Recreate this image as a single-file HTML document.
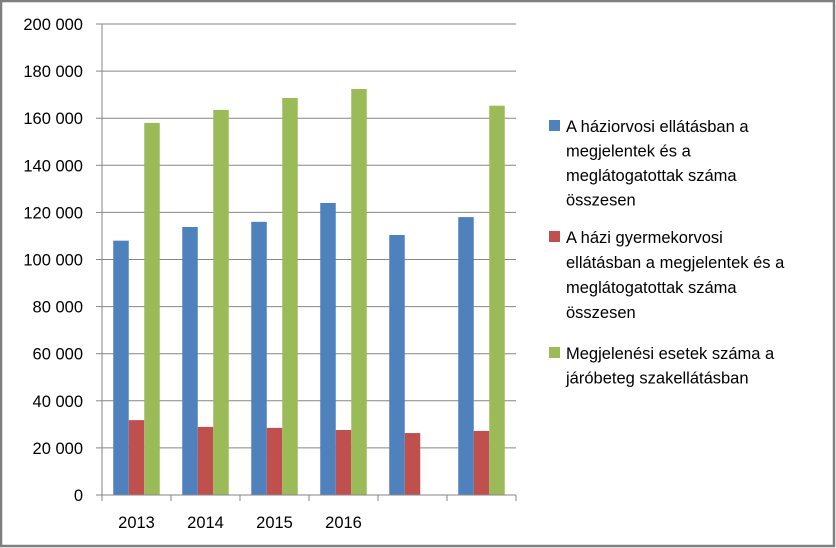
<!DOCTYPE html>
<html><head><meta charset="utf-8"><style>
html,body{margin:0;padding:0;background:#fff;}
svg{display:block;font-family:"Liberation Sans",sans-serif;}
</style></head><body>
<svg width="836" height="548" viewBox="0 0 836 548">
<rect x="1" y="1" width="833" height="545" fill="#fff" stroke="#7f7f7f" stroke-width="2.5"/>
<g id="grid"></g>
<g id="bars"></g>
<g id="axes"></g>
<g id="legend">
  <g>
    <rect x="549" y="120" width="11" height="11" fill="#4f81bd"/>
    <text x="566" y="132" font-size="16.5" fill="#000"><tspan x="566">A háziorvosi ellátásban a</tspan><tspan x="566" dy="24.5">megjelentek és a</tspan><tspan x="566" dy="24.5">meglátogatottak száma</tspan><tspan x="566" dy="24.5">összesen</tspan></text>
  </g>
  <g>
    <rect x="549" y="231" width="11" height="11" fill="#c0504d"/>
    <text x="566" y="243" font-size="16.5" fill="#000"><tspan x="566">A házi gyermekorvosi</tspan><tspan x="566" dy="25">ellátásban a megjelentek és a</tspan><tspan x="566" dy="25">meglátogatottak száma</tspan><tspan x="566" dy="25">összesen</tspan></text>
  </g>
  <g>
    <rect x="549" y="347" width="11" height="11" fill="#9bbb59"/>
    <text x="566" y="359" font-size="16.5" fill="#000"><tspan x="566">Megjelenési esetek száma a</tspan><tspan x="566" dy="24.5">járóbeteg szakellátásban</tspan></text>
  </g>
</g>
</svg>
<script>
const categories = ["2013","2014","2015","2016","",""];
const seriesHaziorvosi = [108000,113800,116000,124000,110400,118000];
const seriesGyermekorvosi = [31800,28900,28500,27600,26300,27200];
const seriesJarobeteg = [158000,163500,168600,172400,null,165300];
const yTicks = [0,20000,40000,60000,80000,100000,120000,140000,160000,180000,200000];
const yTickLabels = ["0","20 000","40 000","60 000","80 000","100 000","120 000","140 000","160 000","180 000","200 000"];

const NS="http://www.w3.org/2000/svg";
const X0=102, X1=516, Y0=495, Y1=24, YMAX=200000;
const catW=(X1-X0)/categories.length;
const barW=15.5;
function y(v){return Y0-(v/YMAX)*(Y0-Y1);}
function xCat(i){return X0+i*catW;}
function mk(tag,attrs,parent){const e=document.createElementNS(NS,tag);for(const k in attrs)e.setAttribute(k,attrs[k]);parent.appendChild(e);return e;}
const grid=document.getElementById('grid'),bars=document.getElementById('bars'),axes=document.getElementById('axes');
yTicks.forEach((t,i)=>{
  if(t>0){const l=mk('line',{x1:X0,x2:X1,y1:y(t),y2:y(t),stroke:'#868686','stroke-width':1},grid);
  
  }
  const tk=mk('line',{x1:96,x2:X0,y1:y(t),y2:y(t),stroke:'#868686','stroke-width':1},axes);
  
  
  const tx=mk('text',{x:83,y:y(t)+6,'text-anchor':'end','font-size':16.5,fill:'#000'},axes);
  tx.textContent=yTickLabels[i];
  
  
});
const series=[[seriesHaziorvosi,'#4f81bd','haziorvosi'],[seriesGyermekorvosi,'#c0504d','gyermekorvosi'],[seriesJarobeteg,'#9bbb59','jarobeteg']];
categories.forEach((c,i)=>{
  const start=xCat(i)+(catW-3*barW)/2;
  series.forEach((s,j)=>{
    const v=s[0][i]; if(v==null) return;
    const r=mk('rect',{x:start+j*barW,y:y(v),width:barW,height:Y0-y(v),fill:s[1]},bars);
    
    
  });
  const lab=mk('text',{x:xCat(i)+catW/2,y:528,'text-anchor':'middle','font-size':16.5,fill:'#000'},axes);
  lab.textContent=c;
  
  
});
for(let i=0;i<=categories.length;i++){
  const t=mk('line',{x1:xCat(i),x2:xCat(i),y1:Y0,y2:Y0+6,stroke:'#868686','stroke-width':1},axes);
  
  
}
const ya=mk('line',{x1:X0,x2:X0,y1:Y1,y2:Y0,stroke:'#868686','stroke-width':1},axes);


const xa=mk('line',{x1:X0,x2:X1,y1:Y0,y2:Y0,stroke:'#868686','stroke-width':1},axes);


</script>
</body></html>
